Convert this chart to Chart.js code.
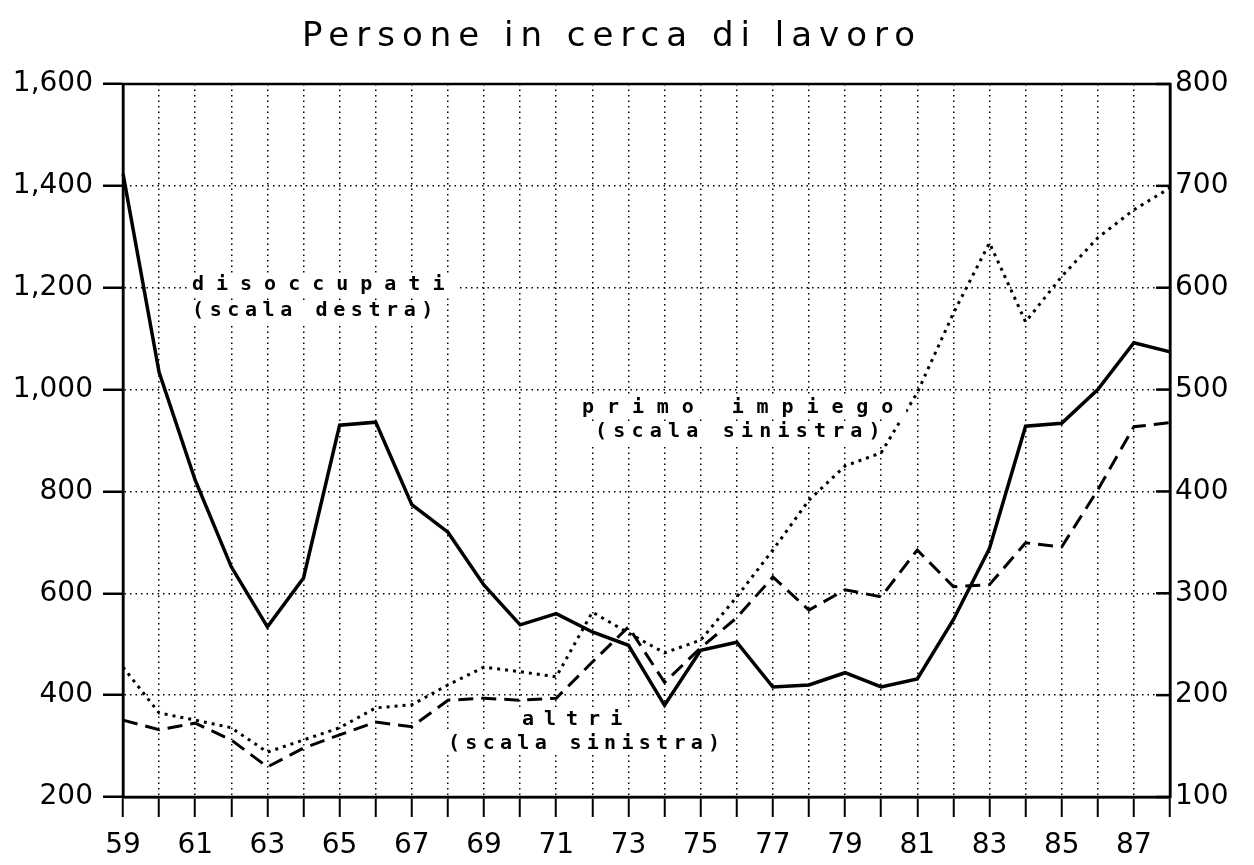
<!DOCTYPE html>
<html>
<head>
<meta charset="utf-8">
<title>Persone in cerca di lavoro</title>
<script src="https://cdn.jsdelivr.net/npm/chart.js@4/dist/chart.umd.min.js"></script>
<style>
  html, body { margin: 0; padding: 0; background: #fff; }
  #wrap { width: 1254px; height: 865px; }
</style>
</head>
<body>
<div id="wrap"><canvas id="chart" width="1254" height="865"></canvas></div>
<script>
// anni 1959-1988
const years = ['59','60','61','62','63','64','65','66','67','68','69','70','71','72','73',
               '74','75','76','77','78','79','80','81','82','83','84','85','86','87','88'];

// disoccupati (scala destra)
const disoccupati = [712, 517, 411, 326, 267, 315, 465, 468, 387, 360, 308, 269, 280, 262, 249,
                     190, 244, 252, 208, 210, 222, 208, 216, 274, 344, 464, 467, 500, 546, 537];

// primo impiego (scala sinistra)
const primoImpiego = [455, 365, 351, 336, 288, 312, 336, 375, 381, 420, 455, 446, 436, 563, 522,
                      483, 508, 593, 685, 783, 850, 876, 994, 1150, 1288, 1133, 1222, 1298, 1353, 1396];

// altri (scala sinistra)
const altri = [351, 332, 345, 312, 259, 296, 322, 347, 338, 390, 394, 390, 394, 465, 534,
               425, 493, 552, 632, 567, 607, 593, 685, 613, 617, 699, 691, 803, 927, 935];

const leftTicks = [200, 400, 600, 800, 1000, 1200, 1400, 1600];
const rightTicks = [100, 200, 300, 400, 500, 600, 700, 800];

const tickFont = { family: '"DejaVu Sans"', size: 28 };

// cornice completa attorno all'area del grafico + tacche interne a destra
const framePlugin = {
  id: 'frame',
  afterDraw(chart) {
    const { ctx, chartArea: a } = chart;
    ctx.save();
    ctx.strokeStyle = '#000';
    ctx.lineWidth = 2.5;
    ctx.setLineDash([]);
    ctx.strokeRect(a.left, a.top, a.right - a.left, a.bottom - a.top);
    const y1 = chart.scales.y1;
    y1.ticks.forEach(t => {
      const y = y1.getPixelForValue(t.value);
      ctx.beginPath();
      ctx.moveTo(a.right - 14, y);
      ctx.lineTo(a.right, y);
      ctx.stroke();
    });
    ctx.restore();
  }
};

// titolo e didascalie delle serie
const labelsPlugin = {
  id: 'labels',
  afterDraw(chart) {
    const ctx = chart.ctx;
    ctx.save();
    ctx.fillStyle = '#000';
    ctx.textBaseline = 'middle';
    ctx.textAlign = 'center';
    ctx.font = '34px "DejaVu Sans"';
    ctx.letterSpacing = '7px';
    ctx.fillText('Persone in cerca di lavoro', 612, 37);

    const notes = [
      ['disoccupati', 192, 285, 12],
      ['(scala destra)', 192, 311, 5.6],
      ['primo impiego', 582, 408, 12.9],
      ['(scala sinistra)', 595, 432, 6.2],
      ['altri', 522, 720, 10],
      ['(scala sinistra)', 448, 744, 5.3]
    ];
    ctx.textAlign = 'left';
    ctx.font = 'bold 20px "DejaVu Sans Mono"';
    notes.forEach(([txt, x, y, ls]) => {
      ctx.letterSpacing = ls + 'px';
      const w = ctx.measureText(txt).width;
      ctx.fillStyle = '#fff';
      ctx.fillRect(x - 4, y - 11, w + 4, 22);
      ctx.fillStyle = '#000';
      ctx.fillText(txt, x, y);
    });
    ctx.restore();
  }
};

new Chart(document.getElementById('chart'), {
  type: 'line',
  data: {
    labels: years,
    datasets: [
      {
        label: 'disoccupati (scala destra)',
        data: disoccupati,
        yAxisID: 'y1',
        borderColor: '#000',
        borderWidth: 3.5,
        pointRadius: 0,
        tension: 0
      },
      {
        label: 'primo impiego (scala sinistra)',
        data: primoImpiego,
        yAxisID: 'y',
        borderColor: '#000',
        borderWidth: 3,
        borderDash: [3, 5],
        pointRadius: 0,
        tension: 0
      },
      {
        label: 'altri (scala sinistra)',
        data: altri,
        yAxisID: 'y',
        borderColor: '#000',
        borderWidth: 3,
        borderDash: [15, 8],
        pointRadius: 0,
        tension: 0
      }
    ]
  },
  options: {
    responsive: false,
    animation: false,
    devicePixelRatio: 1,
    layout: { padding: { top: 84, left: 0, right: 0, bottom: 0 } },
    plugins: {
      legend: { display: false },
      title: { display: false },
      tooltip: { enabled: false }
    },
    scales: {
      x: {
        offset: false,
        afterFit(s) { s.height = 68; },
        grid: {
          color: '#000',
          lineWidth: 1.5,
          tickLength: 20,
          tickColor: '#000',
          tickWidth: 2,
          tickBorderDash: [],
          offset: false
        },
        border: { display: true, color: '#000', width: 2.5, dash: [1.5, 4] },
        ticks: {
          autoSkip: false,
          maxRotation: 0,
          padding: 12,
          color: '#000',
          font: tickFont,
          callback(v, i) { return i % 2 === 0 ? years[i] : ''; }
        }
      },
      y: {
        position: 'left',
        min: 200,
        max: 1600,
        afterFit(s) { s.width = 123; },
        afterBuildTicks(s) { s.ticks = leftTicks.map(v => ({ value: v })); },
        grid: {
          color: '#000',
          lineWidth: 1.5,
          tickLength: 20,
          tickColor: '#000',
          tickWidth: 2.5,
          tickBorderDash: []
        },
        border: { display: true, color: '#000', width: 2.5, dash: [1.5, 4] },
        ticks: {
          padding: 10,
          color: '#000',
          font: tickFont,
          callback(v) { return v.toLocaleString('en-US'); }
        }
      },
      y1: {
        position: 'right',
        min: 100,
        max: 800,
        afterFit(s) { s.width = 84; },
        afterBuildTicks(s) { s.ticks = rightTicks.map(v => ({ value: v })); },
        grid: { drawOnChartArea: false, drawTicks: false },
        border: { display: true, color: '#000', width: 2.5 },
        ticks: {
          padding: 5,
          color: '#000',
          font: tickFont,
          callback(v) { return String(v); }
        }
      }
    }
  },
  plugins: [framePlugin, labelsPlugin]
});
</script>
</body>
</html>
